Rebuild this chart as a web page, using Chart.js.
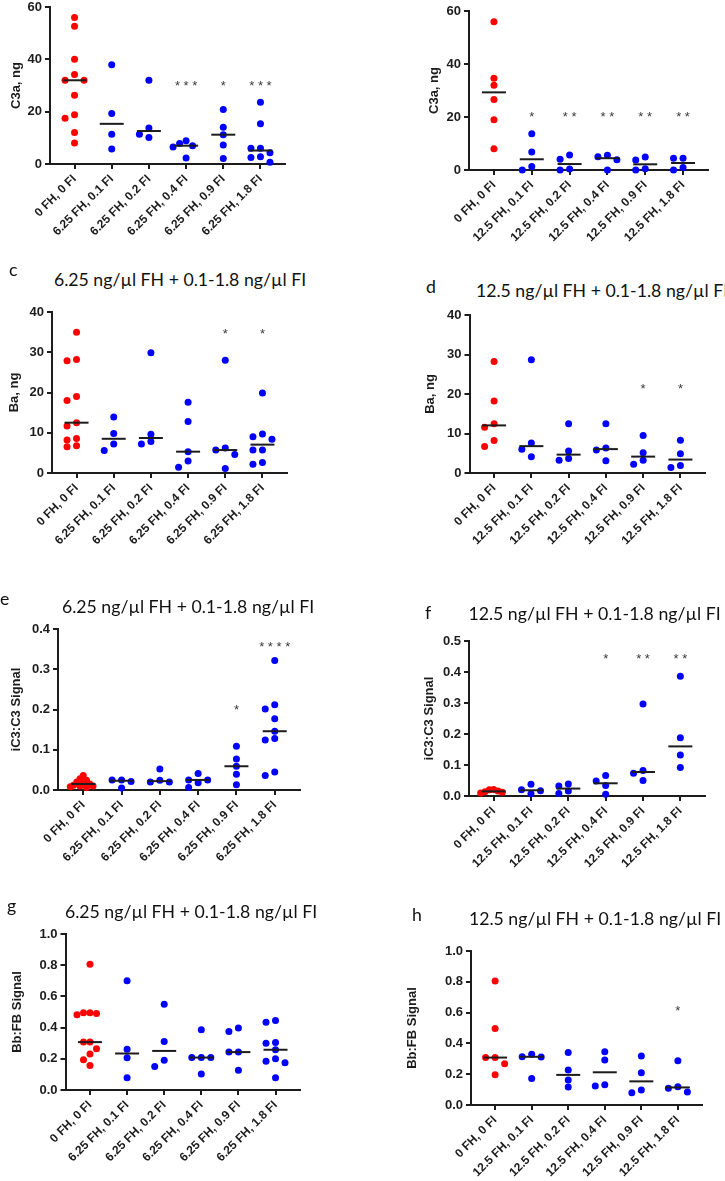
<!DOCTYPE html>
<html>
<head>
<meta charset="utf-8">
<script src="https://cdn.jsdelivr.net/npm/chart.js@4.4.1/dist/chart.umd.min.js"></script>
<style>
  body { margin: 0; width: 725px; height: 1181px; overflow: hidden; background: #fff; position: relative; }
  .panel { position: absolute; }
  .txt { position: absolute; font-family: Lato, sans-serif; font-size: 17.7px; line-height: 20px; color: #111; white-space: nowrap; }
  .ttl { width: 400px; text-align: center; }
</style>
</head>
<body>
<script>
// categories
const groups625 = ['0 FH, 0 FI', '6.25 FH, 0.1 FI', '6.25 FH, 0.2 FI', '6.25 FH, 0.4 FI', '6.25 FH, 0.9 FI', '6.25 FH, 1.8 FI'];
const groups125 = ['0 FH, 0 FI', '12.5 FH, 0.1 FI', '12.5 FH, 0.2 FI', '12.5 FH, 0.4 FI', '12.5 FH, 0.9 FI', '12.5 FH, 1.8 FI'];

// a: C3a, 6.25 FH
const c3a625 = [
    [56, 52.6, 40, 34.2, 32, 32, 26.3, 18.8, 17.5, 12, 8],
    [37.9, 19.3, 11.4, 5.7],
    [32, 13.8, 11.4, 10.1],
    [8.9, 7.8, 7, 6.5, 2.3],
    [20.8, 14, 11.2, 7.3, 2.1],
    [23.6, 15.4, 6, 6, 4.3, 2.8, 2.5, 0.7]
];
const starsA = ['', '', '', '***', '*', '***'];
const starLevelA = [null, null, null, 31, 31, 31];

// b: C3a, 12.5 FH
const c3a125 = [
    [55.9, 34.6, 32, 26.6, 19, 8],
    [13.7, 6.8, 1.3, 0],
    [5.7, 4.1, 0.4, 0],
    [5.6, 5, 3.9, 0],
    [4.9, 3.8, 0.5, 0],
    [4.4, 4.4, 0.9, 0]
];
const starsB = ['', '*', '**', '**', '**', '**'];
const starLevelB = [null, 21.3, 21.3, 21.3, 21.3, 21.3];

// c: Ba, 6.25 FH
const ba625 = [
    [35, 28.2, 27.9, 19, 18, 12.5, 11.7, 8.6, 8.2, 6.8, 6.5],
    [13.9, 9.8, 7.2, 5.6],
    [29.9, 9.6, 7.8, 7.2],
    [17.6, 12.8, 5.3, 3, 1.4],
    [28, 6.2, 5.7, 4.6, 1.1],
    [19.9, 9.7, 9, 8.4, 5.7, 5.7, 2.6, 2.2]
];
const starsC = ['', '', '', '', '*', '*'];
const starLevelC = [null, null, null, null, 35.4, 35.4];

// d: Ba, 12.5 FH
const ba125 = [
    [28.2, 18.2, 12.5, 11.6, 8.2, 6.7],
    [28.7, 7.6, 6, 4.1],
    [12.5, 5.6, 3.7, 3.2],
    [12.5, 6.3, 5.8, 3.1],
    [9.5, 5.1, 3.2, 2.2],
    [8.3, 4.9, 1.9, 1.4]
];
const starsD = ['', '', '', '', '*', '*'];
const starLevelD = [null, null, null, null, 21.9, 21.9];

// e: iC3:C3, 6.25 FH
const ic3625 = [
    [0.036, 0.028, 0.024, 0.02, 0.018, 0.015, 0.012, 0.01, 0.01, 0.008, 0.006],
    [0.025, 0.025, 0.021, 0.005],
    [0.052, 0.024, 0.02, 0.02],
    [0.041, 0.025, 0.025, 0.018, 0.006],
    [0.109, 0.077, 0.059, 0.039, 0.013],
    [0.322, 0.212, 0.201, 0.177, 0.146, 0.128, 0.124, 0.045, 0.036]
];
const starsE = ['', '', '', '', '*', '****'];
const starLevelE = [null, null, null, null, 0.205, 0.363];

// f: iC3:C3, 12.5 FH
const ic3125 = [
    [0.021, 0.02, 0.016, 0.014, 0.012, 0.01],
    [0.038, 0.02, 0.017, 0.007],
    [0.039, 0.032, 0.016, 0.008],
    [0.066, 0.048, 0.034, 0.006],
    [0.297, 0.082, 0.073, 0.05],
    [0.386, 0.188, 0.132, 0.092]
];
const starsF = ['', '', '', '*', '**', '**'];
const starLevelF = [null, null, null, 0.453, 0.453, 0.453];

// g: Bb:FB, 6.25 FH
const bb625 = [
    [0.806, 0.495, 0.495, 0.49, 0.482, 0.307, 0.307, 0.264, 0.231, 0.194, 0.157],
    [0.7, 0.262, 0.206, 0.078],
    [0.55, 0.311, 0.19, 0.15],
    [0.386, 0.208, 0.208, 0.208, 0.103],
    [0.398, 0.375, 0.243, 0.243, 0.126],
    [0.445, 0.435, 0.305, 0.299, 0.258, 0.2, 0.184, 0.175, 0.078]
];
const starsG = ['', '', '', '', '', ''];
const starLevelG = [null, null, null, null, null, null];

// h: Bb:FB, 12.5 FH
const bb125 = [
    [0.805, 0.497, 0.308, 0.308, 0.268, 0.196],
    [0.33, 0.314, 0.312, 0.172],
    [0.341, 0.228, 0.163, 0.117],
    [0.345, 0.293, 0.132, 0.123],
    [0.318, 0.209, 0.098, 0.079],
    [0.287, 0.119, 0.109, 0.084]
];
const starsH = ['', '', '', '', '', '*'];
const starLevelH = [null, null, null, null, null, 0.633];

const panelTitle625 = '6.25 ng/µl FH + 0.1-1.8 ng/µl FI';
const panelTitle125 = '12.5 ng/µl FH + 0.1-1.8 ng/µl FI';

const INK = '#1c1c1c';
const FONT = "'Liberation Sans', Arial, sans-serif";
const RED = '#ff0000';
const BLUE = '#0000ff';

function median(vals) {
    const s = vals.slice().sort((a, b) => a - b);
    const m = Math.floor(s.length / 2);
    return s.length % 2 ? s[m] : (s[m - 1] + s[m]) / 2;
}

// spreads overlapping dots sideways, like a column scatter
const swarm = {
    id: 'swarm',
    beforeDatasetsDraw(chart) {
        const xs = chart.scales.x;
        const step = 9.5, D = 6.8, maxHalf = 13;
        const cands = [0, -1, 1, -2, 2, -3, 3, -4, 4, -5, 5, -6, 6];
        chart.data.datasets.forEach((ds, i) => {
            if (ds.isMedian) return;
            const meta = chart.getDatasetMeta(i);
            const placed = [];
            const slots = meta.data.map(pt => {
                let k = 0;
                for (const s of cands) {
                    if (!placed.some(p => p.s === s && Math.abs(p.y - pt.y) < D)) { k = s; break; }
                }
                placed.push({ s: k, y: pt.y });
                return k;
            });
            const maxS = Math.max(1, ...slots.map(Math.abs));
            const st = Math.min(step, maxHalf / maxS);
            const cx = xs.getPixelForValue(ds.group);
            meta.data.forEach((pt, j) => { pt.x = cx + slots[j] * st; });
        });
    }
};

function starPlugin(marks, levels) {
    return {
        id: 'stars',
        afterDatasetsDraw(chart) {
            const { ctx, scales: { x, y } } = chart;
            ctx.save();
            ctx.fillStyle = '#3a3a3a';
            ctx.font = '13px ' + FONT;
            ctx.textAlign = 'center';
            ctx.textBaseline = 'alphabetic';
            marks.forEach((m, i) => {
                if (!m) return;
                ctx.fillText(m.split('').join(' '), x.getPixelForValue(i), y.getPixelForValue(levels[i]) + 7);
            });
            ctx.restore();
        }
    };
}

function addText(cls, text, left, top) {
    const d = document.createElement('div');
    d.className = 'txt ' + cls;
    d.textContent = text;
    d.style.left = left + 'px';
    d.style.top = top + 'px';
    document.body.appendChild(d);
}

function makePanel(box, labels, data, yMax, yStep, dec, yTitle, marks, levels) {
    const padTop = 8, padRight = 6, xH = 100;
    const left = Math.round(box.x - box.yw);
    const top = Math.round(box.t - padTop);
    const w = Math.round(box.r - box.x + box.yw + padRight);
    const h = Math.round(box.b - box.t + padTop + xH);
    const div = document.createElement('div');
    div.className = 'panel';
    div.style.left = left + 'px';
    div.style.top = top + 'px';
    const cv = document.createElement('canvas');
    cv.width = w;
    cv.height = h;
    div.appendChild(cv);
    document.body.appendChild(div);

    const datasets = data.map((vals, gi) => ({
        group: gi,
        data: vals.map(v => ({ x: gi, y: v })),
        pointRadius: 3.5,
        pointBackgroundColor: gi === 0 ? RED : BLUE,
        pointBorderWidth: 0,
        clip: false
    }));
    datasets.push({
        isMedian: true,
        order: -1,
        data: data.map((vals, gi) => ({ x: gi, y: median(vals) })),
        pointStyle: 'line',
        pointRadius: 12,
        pointBorderWidth: 2,
        pointBorderColor: INK,
        clip: false
    });

    const axisGrid = { drawOnChartArea: false, drawTicks: true, tickLength: 5, color: INK, lineWidth: 2 };
    const axisBorder = { display: true, color: INK, width: 2 };

    new Chart(cv, {
        type: 'scatter',
        data: { datasets },
        options: {
            responsive: false,
            animation: false,
            events: [],
            layout: { padding: { top: padTop, right: padRight, left: 0, bottom: 0 } },
            plugins: { legend: { display: false }, tooltip: { enabled: false } },
            scales: {
                x: {
                    type: 'linear', min: -0.66, max: 5.66,
                    afterBuildTicks: s => { s.ticks = labels.map((_, i) => ({ value: i })); },
                    afterFit: s => { s.height = xH; },
                    ticks: {
                        autoSkip: false, minRotation: 45, maxRotation: 45, padding: 3,
                        color: INK, font: { family: FONT, size: 12, weight: 'bold' },
                        callback: v => labels[v]
                    },
                    grid: axisGrid,
                    border: axisBorder
                },
                y: {
                    min: 0, max: yMax,
                    afterFit: s => { s.width = box.yw; },
                    ticks: {
                        stepSize: yStep, padding: 3,
                        color: INK, font: { family: FONT, size: 13, weight: 'bold' },
                        callback: v => v.toFixed(dec)
                    },
                    grid: axisGrid,
                    border: axisBorder,
                    title: { display: true, text: yTitle, color: INK, padding: 0, font: { family: FONT, size: 13, weight: 'bold' } }
                }
            }
        },
        plugins: [swarm, starPlugin(marks, levels)]
    });
}

makePanel({ x: 50, r: 293, t: 0.5, b: 163.3, yw: 41 }, groups625, c3a625, 60, 20, 0, 'C3a, ng', starsA, starLevelA);
makePanel({ x: 469, r: 716.3, t: 4.7, b: 169.3, yw: 42 }, groups125, c3a125, 60, 20, 0, 'C3a, ng', starsB, starLevelB);
makePanel({ x: 51.7, r: 295, t: 305.7, b: 472.7, yw: 45 }, groups625, ba625, 40, 10, 0, 'Ba, ng', starsC, starLevelC);
makePanel({ x: 469, r: 712, t: 309, b: 473.3, yw: 46.5 }, groups125, ba125, 40, 10, 0, 'Ba, ng', starsD, starLevelD);
makePanel({ x: 58, r: 308, t: 623.3, b: 790.3, yw: 49 }, groups625, ic3625, 0.4, 0.1, 1, 'iC3:C3 Signal', starsE, starLevelE);
makePanel({ x: 469.3, r: 713.3, t: 634.5, b: 795, yw: 47 }, groups125, ic3125, 0.5, 0.1, 1, 'iC3:C3 Signal', starsF, starLevelF);
makePanel({ x: 65, r: 307.7, t: 928.3, b: 1090, yw: 55.5 }, groups625, bb625, 1.0, 0.2, 1, 'Bb:FB Signal', starsG, starLevelG);
makePanel({ x: 470.7, r: 709.3, t: 945.3, b: 1105, yw: 66 }, groups125, bb125, 1.0, 0.2, 1, 'Bb:FB Signal', starsH, starLevelH);

// panel titles and letters
addText('ttl', panelTitle625, 180 - 200, 281 - 11);
addText('ttl', panelTitle125, 602 - 200, 291.7 - 11);
addText('ttl', panelTitle625, 188 - 200, 607.7 - 11);
addText('ttl', panelTitle125, 594.5 - 200, 615 - 11);
addText('ttl', panelTitle625, 191 - 200, 913 - 11);
addText('ttl', panelTitle125, 595 - 200, 920 - 11);
addText('', 'c', 9, 272 - 12);
addText('', 'd', 426, 287 - 10);
addText('', 'e', 0, 601 - 12);
addText('', 'f', 425, 613 - 10);
addText('', 'g', 7, 908 - 12);
addText('', 'h', 412, 915 - 10);
</script>
</body>
</html>
